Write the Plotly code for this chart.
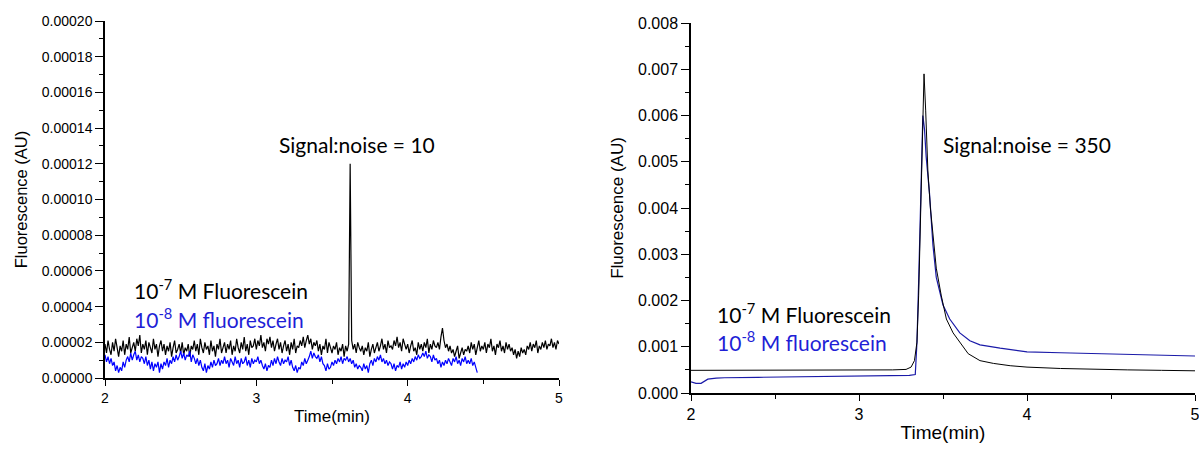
import plotly.graph_objects as go

W, H = 1199, 450

# ---------------- data ----------------
# Left panel: sample grid (min) and fluorescence in micro-AU (x1e-6)
left_t0 = 2.0
left_step = 0.01
left_black_uAU = [
    19, 14, 21, 16, 13, 20, 15, 22, 17, 12,
    18, 15, 21, 13, 19, 16, 23, 14, 17, 20,
    15, 22, 18, 24, 14, 19, 16, 21, 13, 20,
    17, 14, 22, 16, 19, 12, 18, 21, 15, 19,
    13, 18, 15, 20, 12, 17, 21, 14, 16, 19,
    14, 20, 13, 17, 15, 19, 12, 18, 16, 21,
    15, 19, 13, 22, 17, 14, 20, 16, 18, 13,
    21, 15, 18, 12, 19, 16, 22, 14, 17, 20,
    14, 19, 16, 21, 13, 18, 15, 22, 17, 14,
    20, 16, 23, 15, 19, 13, 21, 17, 18, 22,
    16, 21, 18, 24, 17, 20, 15, 22, 19, 23,
    17, 21, 15, 19, 22, 16, 20, 14, 18, 21,
    15, 19, 13, 20, 16, 22, 14, 18, 17, 21,
    18, 23, 17, 21, 24, 19, 22, 16, 20, 18,
    21, 15, 19, 13, 18, 16, 22, 14, 20, 17,
    14, 18, 16, 20, 13, 17, 15, 19, 12, 18,
    15, 19, 120, 21, 16, 19, 14, 20, 17, 15,
    18, 13, 17, 15, 20, 12, 16, 19, 14, 17,
    20, 15, 18, 22, 16, 19, 14, 21, 17, 18,
    16, 21, 18, 23, 17, 20, 15, 22, 19, 16,
    19, 14, 18, 21, 15, 17, 13, 20, 16, 19,
    15, 20, 17, 22, 14, 19, 16, 21, 18, 17,
    20, 16, 23, 28, 21, 17, 19, 15, 18, 14,
    16, 12, 15, 18, 11, 14, 17, 13, 16, 15,
    18, 14, 20, 16, 19, 13, 17, 21, 15, 18,
    16, 20, 14, 19, 17, 22, 15, 18, 13, 19,
    17, 21, 15, 18, 14, 20, 16, 19, 15, 17,
    13, 16, 11, 15, 12, 17, 14, 16, 13, 18,
    16, 20, 15, 19, 17, 21, 14, 18, 16, 20,
    17, 21, 16, 19, 18, 22, 17, 20, 16, 21,
    19,
]
left_blue_uAU = [
    13, 9, 12, 8, 11, 7, 9, 4, 7, 3,
    6, 4, 9, 6, 10, 12, 9, 14, 10, 13,
    15, 10, 13, 9, 12, 11, 8, 12, 7, 10,
    5, 9, 4, 8, 6, 9, 3, 8, 5, 9,
    7, 11, 6, 10, 8, 12, 9, 13, 10, 12,
    15, 11, 14, 10, 13, 12, 15, 9, 13, 11,
    8, 11, 7, 10, 6, 4, 8, 3, 7, 5,
    9, 6, 10, 7, 8, 11, 7, 10, 8, 12,
    8, 10, 6, 11, 9, 7, 12, 8, 10, 6,
    11, 8, 9, 12, 7, 10, 6, 11, 8, 10,
    9, 12, 8, 10, 7, 5, 8, 4, 7, 6,
    10, 7, 11, 8, 12, 9, 7, 11, 8, 10,
    9, 12, 7, 10, 6, 4, 7, 3, 6, 5,
    9, 7, 11, 8, 10, 12, 15, 11, 14, 12,
    11, 13, 9, 12, 8, 7, 4, 8, 5, 6,
    9, 7, 10, 8, 11, 9, 12, 8, 11, 10,
    12, 9, 11, 8, 10, 6, 8, 5, 7, 6,
    4, 8, 5, 7, 3, 8, 10, 7, 11, 9,
    12, 10, 13, 9, 11, 8, 10, 7, 9, 8,
    5, 8, 4, 7, 6, 9, 5, 8, 6, 9,
    7, 10, 8, 11, 9, 12, 10, 13, 11, 12,
    14, 12, 15, 11, 13, 12, 9, 13, 10, 11,
    8, 10, 6, 9, 7, 10, 8, 11, 9, 7,
    11, 9, 12, 8, 10, 7, 11, 9, 12, 8,
    10, 8, 11, 7, 9, 6, 3,
]

# Right panel
right_black_t = [2.0, 2.2, 2.4, 2.6, 2.8, 3.0, 3.2, 3.28, 3.31, 3.33, 3.345,
                 3.355, 3.365, 3.375, 3.387, 3.397, 3.41, 3.425, 3.44, 3.46,
                 3.49, 3.52, 3.56, 3.60, 3.65, 3.72, 3.80, 3.90, 4.0, 4.2,
                 4.4, 4.6, 4.8, 5.0]
right_black_y = [0.00049, 0.00049, 0.00050, 0.00049, 0.00050, 0.00050, 0.00050,
                 0.00051, 0.00056, 0.00070, 0.0011, 0.0021, 0.0037, 0.0055,
                 0.0069, 0.0061, 0.0048, 0.0040, 0.0034, 0.0027, 0.0021,
                 0.0016, 0.0013, 0.0011, 0.00085, 0.00070, 0.00064, 0.00059,
                 0.00056, 0.00053, 0.00051, 0.00050, 0.00049, 0.00048]
right_blue_t = [2.0, 2.03, 2.06, 2.08, 2.1, 2.15, 2.2, 2.4, 2.6, 2.8, 3.0,
                3.2, 3.3, 3.335, 3.345, 3.355, 3.365, 3.373, 3.38, 3.39,
                3.40, 3.42, 3.44, 3.46, 3.50, 3.54, 3.60, 3.66, 3.72, 3.84,
                4.0, 4.2, 4.5, 4.8, 5.0]
right_blue_y = [0.00024, 0.00021, 0.00021, 0.00026, 0.00030, 0.00032, 0.00033,
                0.00034, 0.00035, 0.00036, 0.00036, 0.00037, 0.00038, 0.00040,
                0.0011, 0.0024, 0.0040, 0.0053, 0.0060, 0.0057, 0.0051,
                0.0043, 0.0032, 0.0025, 0.0019, 0.0016, 0.0013, 0.00113,
                0.00104, 0.00097, 0.00089, 0.00087, 0.00084, 0.00082, 0.00080]

x_ticks = [2, 3, 4, 5]
left_y_ticks = [0.0, 0.00002, 0.00004, 0.00006, 0.00008, 0.00010,
                0.00012, 0.00014, 0.00016, 0.00018, 0.00020]
right_y_ticks = [0.000, 0.001, 0.002, 0.003, 0.004, 0.005, 0.006, 0.007, 0.008]

# ---------------- build ----------------
left_black_t = [round(left_t0 + left_step * i, 4) for i in range(len(left_black_uAU))]
left_blue_t = [round(left_t0 + left_step * i, 4) for i in range(len(left_blue_uAU))]
left_black_y = [v * 1e-6 for v in left_black_uAU]
left_blue_y = [v * 1e-6 for v in left_blue_uAU]


def fx(px):
    return px / W


def fy(py):
    return 1 - py / H


fig = go.Figure()
fig.add_trace(go.Scatter(x=left_black_t, y=left_black_y, mode="lines",
                         line=dict(color="black", width=1.2, simplify=False),
                         xaxis="x", yaxis="y", showlegend=False))
fig.add_trace(go.Scatter(x=left_blue_t, y=left_blue_y, mode="lines",
                         line=dict(color="#0000ff", width=1.2, simplify=False),
                         xaxis="x", yaxis="y", showlegend=False))
fig.add_trace(go.Scatter(x=right_blue_t, y=right_blue_y, mode="lines",
                         line=dict(color="#1a1aa8", width=1.2), xaxis="x2", yaxis="y2",
                         showlegend=False))
fig.add_trace(go.Scatter(x=right_black_t, y=right_black_y, mode="lines",
                         line=dict(color="black", width=1), xaxis="x2", yaxis="y2",
                         showlegend=False))

tick_font_l = dict(family="Liberation Sans, Arial", size=14, color="black")
tick_font_r = dict(family="Liberation Sans, Arial", size=16, color="black")

common = dict(showline=True, linecolor="black", linewidth=1.5, showgrid=False,
              zeroline=False, ticks="outside", tickcolor="black", tickwidth=1.2,
              automargin=False, ticklabeloverflow="allow")

fig.update_layout(
    width=W, height=H,
    margin=dict(l=0, r=0, t=0, b=0),
    paper_bgcolor="white", plot_bgcolor="white",
    xaxis=dict(domain=[fx(105), fx(559)], range=[2, 5], anchor="y",
               tickvals=x_ticks, ticklen=6, tickfont=tick_font_l,
               minor=dict(dtick=0.5, ticks="outside", ticklen=4, tickcolor="black"),
               title=dict(text="Time(min)", standoff=6,
                          font=dict(family="Liberation Sans, Arial", size=17, color="black")),
               **common),
    yaxis=dict(domain=[fy(378), fy(21)], range=[0, 0.0002], anchor="x",
               tickvals=left_y_ticks, tickformat=".5f", ticklen=8, tickfont=tick_font_l,
               minor=dict(dtick=0.00001, ticks="outside", ticklen=4, tickcolor="black"),
               title=dict(text="Fluorescence (AU)", standoff=10,
                          font=dict(family="Liberation Sans, Arial", size=16.5, color="black")),
               **common),
    xaxis2=dict(domain=[fx(691), fx(1195)], range=[2, 5], anchor="y2",
                tickvals=x_ticks, ticklen=6, tickfont=tick_font_r,
                minor=dict(dtick=0.5, ticks="outside", ticklen=4, tickcolor="black"),
                title=dict(text="Time(min)", standoff=4,
                           font=dict(family="Liberation Sans, Arial", size=19, color="black")),
                **common),
    yaxis2=dict(domain=[fy(393), fy(23)], range=[0, 0.008], anchor="x2",
                tickvals=right_y_ticks, tickformat=".3f", ticklen=8, tickfont=tick_font_r,
                minor=dict(dtick=0.0005, ticks="outside", ticklen=4, tickcolor="black"),
                title=dict(text="Fluorescence (AU)", standoff=10,
                           font=dict(family="Liberation Sans, Arial", size=17, color="black")),
                **common),
)

ann_font = "Lato, Carlito, Calibri, sans-serif"
annotations = [
    dict(text="Signal:noise = 10", x=fx(357), y=fy(145), xanchor="center",
         yanchor="middle", font=dict(family=ann_font, size=21, color="black")),
    dict(text="10<sup>-7</sup> M Fluorescein", x=fx(132), y=fy(289), xanchor="left",
         yanchor="middle", font=dict(family=ann_font, size=21, color="black")),
    dict(text="10<sup>-8</sup> M fluorescein", x=fx(132), y=fy(318), xanchor="left",
         yanchor="middle", font=dict(family=ann_font, size=21, color="#1f1fd6")),
    dict(text="Signal:noise = 350", x=fx(941), y=fy(145), xanchor="left",
         yanchor="middle", font=dict(family=ann_font, size=21, color="black")),
    dict(text="10<sup>-7</sup> M Fluorescein", x=fx(715), y=fy(313), xanchor="left",
         yanchor="middle", font=dict(family=ann_font, size=21, color="black")),
    dict(text="10<sup>-8</sup> M fluorescein", x=fx(715), y=fy(341), xanchor="left",
         yanchor="middle", font=dict(family=ann_font, size=21, color="#1f1fd6")),
]
for a in annotations:
    a.update(xref="paper", yref="paper", showarrow=False)
fig.update_layout(annotations=annotations)

fig.write_html(
    "out.html",
    config={"displayModeBar": False},
    post_script="document.body.style.margin='0';document.body.style.overflow='hidden';",
)
